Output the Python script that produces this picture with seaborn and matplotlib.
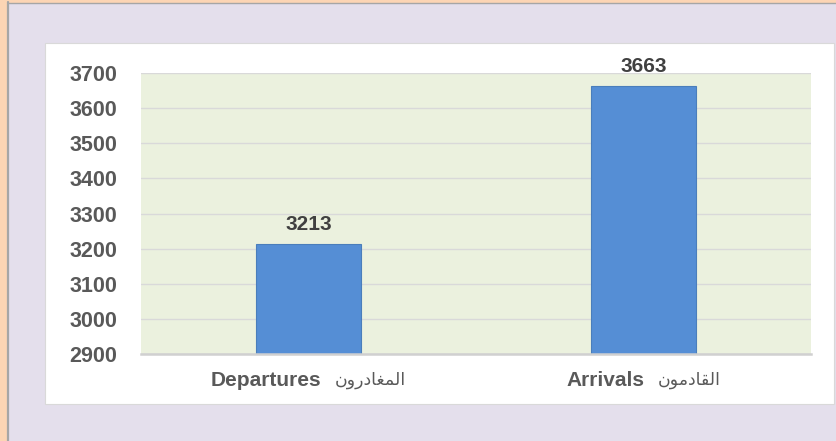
import matplotlib
matplotlib.use("Agg")
import matplotlib.pyplot as plt
import seaborn as sns
from matplotlib.patches import Rectangle
from matplotlib.lines import Line2D
from matplotlib.offsetbox import TextArea, HPacker, AnnotationBbox

# ---- data ----
categories_en = ["Departures", "Arrivals"]
# Arabic labels pre-shaped (presentation forms, visual order): المغادرون / القادمون
categories_ar = ["\uFEE5\uFEED\uFEAD\uFEA9\uFE8E\uFED0\uFEE4\uFEDF\uFE8D",
                 "\uFEE5\uFEEE\uFEE3\uFEA9\uFE8E\uFED8\uFEDF\uFE8D"]
values = [3213, 3663]
y_ticks = [2900, 3000, 3100, 3200, 3300, 3400, 3500, 3600, 3700]

W, H = 837, 441
sns.set_theme(style="white")
plt.rcParams['font.family'] = ['Liberation Sans', 'DejaVu Sans']

fig = plt.figure(figsize=(W / 100, H / 100), dpi=100)
fig.patch.set_facecolor("#FCD5B4")

def fx(x):
    return x / W

def fy(y):
    return 1 - y / H

# lavender background and grey frame
fig.patches.append(Rectangle((fx(9), 0), fx(W - 9), 1 - 3 / H, transform=fig.transFigure,
                             facecolor="#E4DFEC", edgecolor="none", zorder=0))
fig.lines.append(Line2D([fx(8.5), fx(8.5)], [0, fy(2)], transform=fig.transFigure,
                        color="#A6A6A6", lw=1.6, zorder=1))
fig.lines.append(Line2D([fx(8), 1], [fy(2.5), fy(2.5)], transform=fig.transFigure,
                        color="#A6A6A6", lw=1.0, zorder=1))
# white panel
fig.patches.append(Rectangle((fx(45), fy(404)), fx(834 - 45), (404 - 43) / H,
                             transform=fig.transFigure, facecolor="white",
                             edgecolor="#D9D9D9", lw=0.8, zorder=1))

ax = fig.add_axes([fx(141), fy(354), fx(811 - 141), (354 - 73) / H])
ax.set_facecolor("#EBF1DE")
ax.set_zorder(2)

sns.barplot(x=categories_en, y=values, color="#558ED5", width=0.316,
            edgecolor="#4A7EBB", linewidth=0.8, saturation=1, ax=ax, zorder=3)

ax.set_ylim(y_ticks[0], y_ticks[-1])
ax.set_yticks(y_ticks)
ax.set_yticklabels([str(t) for t in y_ticks], fontsize=15.5, fontweight="bold", color="#595959")
ax.tick_params(axis="y", length=0, pad=17)
ax.tick_params(axis="x", length=0, labelbottom=False)
ax.set_xlabel("")
ax.set_ylabel("")

for t in y_ticks:
    ax.axhline(t, color="#D9D9D9", lw=1.0, zorder=1)

for s in ["left", "right", "top"]:
    ax.spines[s].set_visible(False)
ax.spines["bottom"].set_color("#D0D0D0")
ax.spines["bottom"].set_linewidth(1.8)
ax.spines["bottom"].set_zorder(4)

# value labels
for i, v in enumerate(values):
    ax.annotate(str(v), xy=(i, v), xytext=(0, 7.5), textcoords="offset points",
                ha="center", va="bottom", fontsize=15, fontweight="bold", color="#404040")

# category labels: bold English + Arabic
for i, (en, ar) in enumerate(zip(categories_en, categories_ar)):
    t_en = TextArea(en, textprops=dict(fontsize=15, fontweight="bold", color="#595959",
                                       family=['Liberation Sans', 'DejaVu Sans']))
    t_ar = TextArea(ar, textprops=dict(fontsize=12.5, color="#595959",
                                       family=['DejaVu Sans']))
    pack = HPacker(children=[t_en, t_ar], pad=0, sep=10, align="center")
    ab = AnnotationBbox(pack, xy=(i, 0), xycoords=("data", "axes fraction"),
                        xybox=(0, -26 * 0.72), boxcoords="offset points",
                        box_alignment=(0.5, 0.5), frameon=False, annotation_clip=False)
    ax.add_artist(ab)

fig.savefig("out.png", dpi=100, facecolor=fig.get_facecolor())
